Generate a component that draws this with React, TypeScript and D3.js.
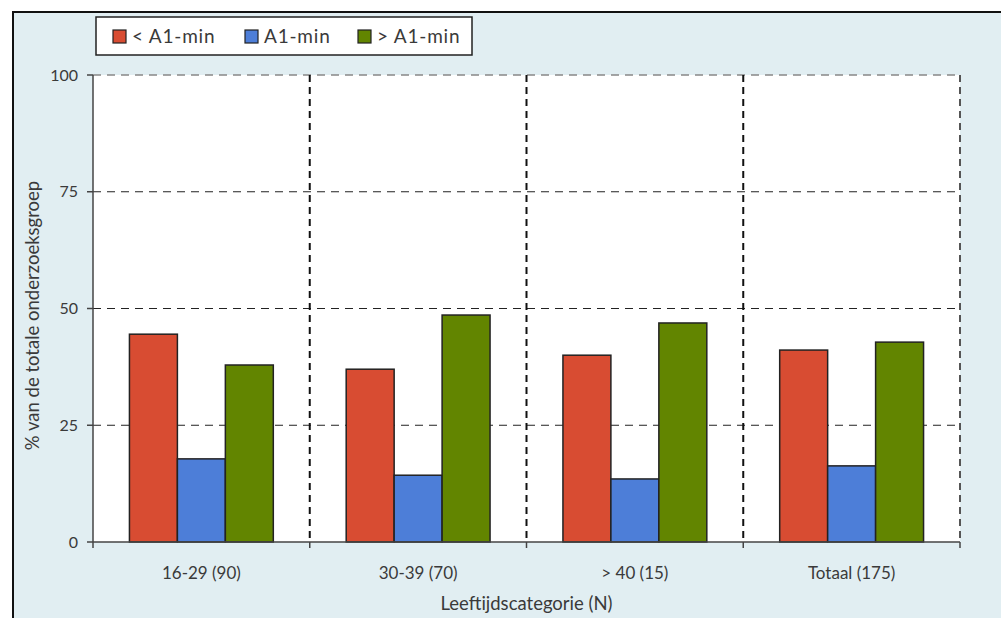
import React from "react";
import * as d3 from "d3";

const categories = ["16-29 (90)", "30-39 (70)", "> 40 (15)", "Totaal (175)"];
const seriesNames = ["< A1-min", "A1-min", "> A1-min"];
const seriesColors = ["#d84c32", "#4d7ed8", "#628500"];
const belowA1 = [44.5, 37.0, 40.0, 41.1];
const atA1 = [17.8, 14.3, 13.5, 16.3];
const aboveA1 = [37.9, 48.6, 46.9, 42.8];
const yTicks = [0, 25, 50, 75, 100];
const seriesValues = [belowA1, atA1, aboveA1];

const W = 1001;
const H = 618;
const left = 93;
const right = 960;
const top = 75;
const bottom = 542;
const FONT = "Lato, 'Open Sans', sans-serif";
const TEXT = "#3a3a3a";

export default function App() {
  const x = d3.scaleBand<string>().domain(categories).range([left, right]).paddingInner(0).paddingOuter(0);
  const y = d3.scaleLinear().domain([0, 100]).range([bottom, top]);
  const inner = d3.scaleBand<string>().domain(seriesNames).range([0, x.bandwidth()]).paddingOuter(0.76).paddingInner(0);

  return (
    <svg width={W} height={H} style={{ position: "absolute", left: 0, top: 0 }}>
      <rect x={0} y={0} width={W} height={H} fill="#ffffff" />
      <rect x={13} y={12} width={W} height={H} fill="#e1eef2" stroke="#111" strokeWidth={2} />
      <rect x={left} y={top} width={right - left} height={bottom - top} fill="#ffffff" />
      {/* horizontal grid */}
      {yTicks.filter((t) => t > 0).map((t) => (
        <line key={t} x1={left} x2={right} y1={y(t)} y2={y(t)}
          stroke={t === 100 ? "#888" : "#222"} strokeWidth={t === 100 ? 1.5 : 1} strokeDasharray="8,6" />
      ))}
      {/* bars */}
      {categories.map((c, ci) => (
        <g key={c}>
          {seriesNames.map((s, si) => {
            const v = seriesValues[si][ci];
            return (
              <rect key={s} x={(x(c) as number) + (inner(s) as number)} y={y(v)}
                width={inner.bandwidth()} height={y(0) - y(v)}
                fill={seriesColors[si]} stroke="#222" strokeWidth={1.5} />
            );
          })}
        </g>
      ))}
      {/* vertical dashed separators */}
      {categories.map((c) => {
        const xv = (x(c) as number) + x.bandwidth();
        return (
          <line key={"v" + c} x1={xv} x2={xv} y1={top} y2={bottom}
            stroke={xv >= right - 1 ? "#555" : "#111"} strokeWidth={2} strokeDasharray="7,5" />
        );
      })}
      {/* axes */}
      <line x1={left} x2={left} y1={top} y2={bottom} stroke="#444" strokeWidth={1.5} />
      <line x1={left} x2={right} y1={bottom} y2={bottom} stroke="#444" strokeWidth={1.5} />
      {yTicks.map((t) => (
        <g key={"yt" + t}>
          <line x1={left - 6} x2={left} y1={y(t)} y2={y(t)} stroke="#444" strokeWidth={1.5} />
          <text x={78} y={y(t)} dy="0.35em" textAnchor="end" fontFamily={FONT} fontSize={16} fill={TEXT}>{t}</text>
        </g>
      ))}
      {[left, ...categories.map((c) => (x(c) as number) + x.bandwidth())].map((xv, i) => (
        <line key={"xt" + i} x1={xv} x2={xv} y1={bottom} y2={bottom + 6} stroke="#444" strokeWidth={1.5} />
      ))}
      {categories.map((c) => (
        <text key={"xl" + c} x={(x(c) as number) + x.bandwidth() / 2} y={579} textAnchor="middle"
          fontFamily={FONT} fontSize={17} fill={TEXT}>{c}</text>
      ))}
      <text x={(left + right) / 2} y={610} textAnchor="middle" fontFamily={FONT} fontSize={18.5} fill={TEXT}>
        Leeftijdscategorie (N)
      </text>
      <text transform={`translate(39, ${(top + bottom) / 2 + 7}) rotate(-90)`} textAnchor="middle"
        fontFamily={FONT} fontSize={18.5} fill={TEXT}>% van de totale onderzoeksgroep</text>
      {/* legend */}
      <rect x={96} y={17} width={376} height={38} fill="#ffffff" stroke="#222" strokeWidth={1.5} />
      {seriesNames.map((s, i) => {
        const lx = [113, 245, 358][i];
        return (
          <g key={"lg" + s}>
            <rect x={lx} y={30} width={13} height={13} fill={seriesColors[i]} stroke="#222" strokeWidth={1.2} />
            <text x={lx + 19} y={43} fontFamily={FONT} fontSize={19} fill={TEXT} letterSpacing={0.8}>{s}</text>
          </g>
        );
      })}
    </svg>
  );
}
